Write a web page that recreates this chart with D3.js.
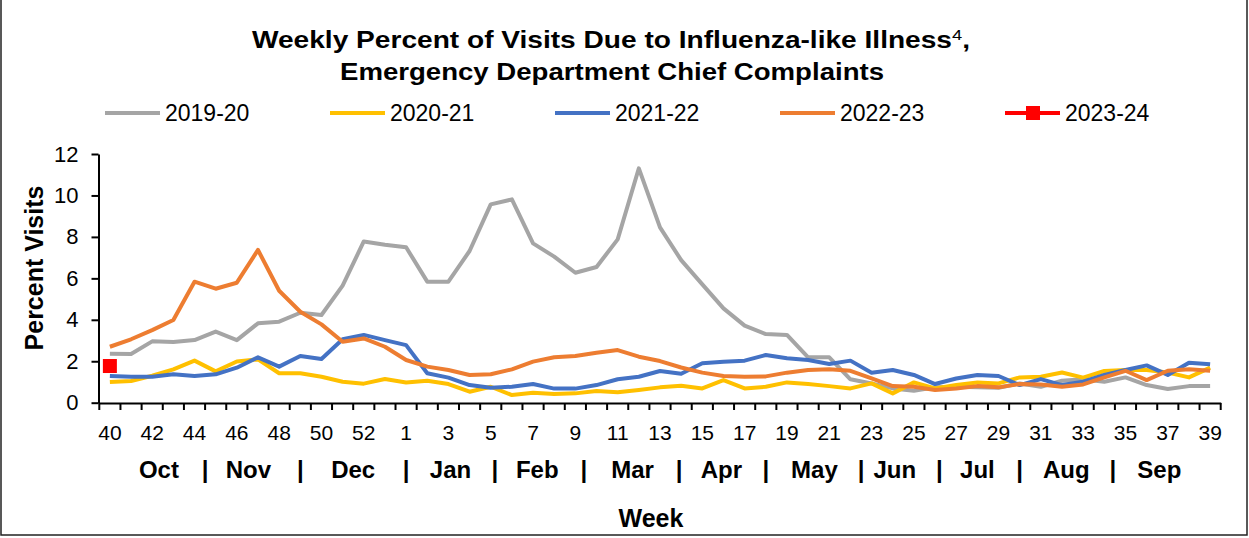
<!DOCTYPE html>
<html>
<head>
<meta charset="utf-8">
<script src="https://cdn.jsdelivr.net/npm/d3@7"></script>
<style>
  body { margin: 0; background: #fff; }
  text { font-family: Arial, "Liberation Sans", sans-serif; }
</style>
</head>
<body>
<div id="svg"></div>
<script>
var w = 1249;
var h = 538;

// season weeks: 40..53 then 1..39
var weeks = ['40','41','42','43','44','45','46','47','48','49','50','51','52','53',
  '1','2','3','4','5','6','7','8','9','10','11','12','13','14','15','16','17','18','19','20',
  '21','22','23','24','25','26','27','28','29','30','31','32','33','34','35','36','37','38','39'];
var tickWeeks = ['40','42','44','46','48','50','52','1','3','5','7','9','11','13','15','17','19',
  '21','23','25','27','29','31','33','35','37','39'];
var months = ['Oct','Nov','Dec','Jan','Feb','Mar','Apr','May','Jun','Jul','Aug','Sep'];
var seasons = ['2019-20','2020-21','2021-22','2022-23','2023-24'];

var s2019 = [2.36,2.35,2.96,2.93,3.02,3.43,3.02,3.83,3.91,4.34,4.23,5.65,7.78,7.62,
  7.50,5.84,5.84,7.32,9.57,9.81,7.69,7.05,6.27,6.55,7.88,11.31,8.46,6.88,5.71,4.55,3.72,3.31,3.27,2.19,
  2.19,1.13,0.93,0.69,0.58,0.74,0.77,0.74,0.72,0.93,0.77,1.06,1.13,1.01,1.22,0.85,0.66,0.80,0.80];
var s2020 = [1.00,1.05,1.30,1.61,2.03,1.51,1.99,2.09,1.42,1.42,1.25,1.01,0.92,1.14,
  0.97,1.06,0.90,0.53,0.77,0.37,0.48,0.42,0.45,0.56,0.50,0.61,0.74,0.82,0.69,1.09,0.69,0.77,0.98,0.90,
  0.80,0.69,0.93,0.45,0.98,0.69,0.85,0.97,0.93,1.22,1.25,1.46,1.21,1.53,1.58,1.58,1.46,1.22,1.69];
var s2021 = [1.29,1.25,1.25,1.37,1.29,1.37,1.69,2.19,1.74,2.25,2.11,3.06,3.27,3.02,
  2.78,1.42,1.21,0.85,0.72,0.77,0.90,0.68,0.68,0.85,1.13,1.25,1.53,1.40,1.90,1.98,2.03,2.30,2.14,2.06,
  1.87,2.03,1.45,1.58,1.34,0.90,1.17,1.34,1.29,0.85,1.14,0.85,1.01,1.34,1.58,1.80,1.34,1.93,1.85];
var s2022 = [2.70,3.06,3.50,3.99,5.84,5.50,5.79,7.37,5.40,4.39,3.78,2.94,3.10,2.70,
  2.06,1.74,1.58,1.34,1.37,1.61,1.98,2.19,2.25,2.41,2.54,2.22,2.01,1.70,1.45,1.29,1.25,1.27,1.45,1.58,
  1.61,1.54,1.17,0.80,0.77,0.61,0.69,0.80,0.74,0.90,0.88,0.77,0.88,1.22,1.54,1.09,1.54,1.61,1.54];
var s2023 = [1.77];

var colors = ['#A5A5A5','#FFC000','#4472C4','#ED7D31','#FF0000'];
var seriesData = [s2019, s2020, s2021, s2022, s2023];

const svg = d3.select('#svg')
  .append('svg')
  .attr('width', w)
  .attr('height', h);

var x = d3.scaleBand()
  .domain(weeks)
  .range([99.3, 1220.7])
  .padding(0);

var y = d3.scaleLinear()
  .domain([0, 12])
  .range([402.7, 154]);

var cx = d => x(d) + x.bandwidth() / 2;

// outer frame
svg.append('rect')
  .attr('x', 1).attr('y', -5)
  .attr('width', 1246).attr('height', 540)
  .attr('fill', 'none')
  .attr('stroke', '#222')
  .attr('stroke-width', 1.5);

// title
var title = svg.append('text')
  .attr('x', 611).attr('y', 48)
  .attr('text-anchor', 'middle')
  .attr('font-size', 23)
  .attr('font-weight', 'bold')
  .attr('textLength', 718)
  .attr('lengthAdjust', 'spacingAndGlyphs');
title.append('tspan').text('Weekly Percent of Visits Due to Influenza-like Illness');
title.append('tspan').attr('font-size', 15).attr('font-weight', 'normal').attr('dy', -8).text('4');
title.append('tspan').attr('dy', 8).text(',');

svg.append('text')
  .attr('x', 612).attr('y', 80)
  .attr('text-anchor', 'middle')
  .attr('font-size', 23)
  .attr('font-weight', 'bold')
  .attr('textLength', 544)
  .attr('lengthAdjust', 'spacingAndGlyphs')
  .text('Emergency Department Chief Complaints');

// legend
var legend = svg.append('g')
  .selectAll('g')
  .data(seasons)
  .enter()
  .append('g')
  .attr('transform', (d, i) => `translate(${105 + i * 225}, 113)`);

legend.append('line')
  .attr('x1', 0).attr('x2', 55)
  .attr('stroke', (d, i) => colors[i])
  .attr('stroke-width', 4);

legend.filter((d, i) => i == 4)
  .append('rect')
  .attr('x', 21).attr('y', -7)
  .attr('width', 14).attr('height', 14)
  .attr('fill', colors[4]);

legend.append('text')
  .attr('x', 60).attr('y', 8)
  .attr('font-size', 23)
  .text(d => d);

// series lines
var line = d3.line()
  .x((d, i) => cx(weeks[i]))
  .y(d => y(d));

svg.append('g')
  .selectAll('path')
  .data(seriesData.slice(0, 4))
  .enter()
  .append('path')
  .attr('d', d => line(d))
  .attr('fill', 'none')
  .attr('stroke', (d, i) => colors[i])
  .attr('stroke-width', 4)
  .attr('stroke-linejoin', 'round');

svg.selectAll('.cur')
  .data(s2023)
  .enter()
  .append('rect')
  .attr('class', 'cur')
  .attr('x', (d, i) => cx(weeks[i]) - 7)
  .attr('y', d => y(d) - 7)
  .attr('width', 14).attr('height', 14)
  .attr('fill', colors[4]);

// y axis
var yAxis = svg.append('g')
  .attr('transform', 'translate(98.5, 0)')
  .call(d3.axisLeft(y).tickValues([0, 2, 4, 6, 8, 10, 12]).tickSize(7).tickPadding(13).tickSizeOuter(0));
yAxis.select('.domain').attr('stroke', '#000').attr('stroke-width', 2);
yAxis.selectAll('.tick line').attr('stroke', '#000').attr('stroke-width', 2);
yAxis.selectAll('text').attr('font-size', 22).attr('fill', '#000')
  .attr('font-family', 'Arial, "Liberation Sans", sans-serif');

// x axis
var xAxis = svg.append('g')
  .attr('transform', 'translate(0, 403)')
  .call(d3.axisBottom(x).tickValues(tickWeeks).tickSize(0).tickPadding(22).tickSizeOuter(0));
xAxis.select('.domain').attr('stroke', '#000').attr('stroke-width', 2);
xAxis.selectAll('text').attr('font-size', 21).attr('fill', '#000')
  .attr('font-family', 'Arial, "Liberation Sans", sans-serif');

// category boundary ticks
var bounds = weeks.map(d => x(d)).concat([x.range()[1]]);
xAxis.selectAll('.bound')
  .data(bounds)
  .enter()
  .append('line')
  .attr('class', 'bound')
  .attr('x1', d => d).attr('x2', d => d)
  .attr('y1', 0).attr('y2', 7)
  .attr('stroke', '#000')
  .attr('stroke-width', 2);

// month row
var monthPos = [2.32, 6.55, 11.5, 16.1, 20.2, 24.7, 28.9, 33.3, 37.1, 41.0, 45.2, 49.6];
var sepPos = [4.5, 9.0, 14.0, 18.2, 22.4, 26.9, 31.0, 35.5, 39.2, 43.0, 47.4];
var idx = d3.scaleLinear().domain([0, weeks.length]).range(x.range());
var half = x.bandwidth() / 2;

svg.selectAll('.month')
  .data(months)
  .enter()
  .append('text')
  .attr('class', 'month')
  .attr('x', (d, i) => idx(monthPos[i]) + half)
  .attr('y', 478)
  .attr('text-anchor', 'middle')
  .attr('font-size', 24)
  .attr('font-weight', 'bold')
  .text(d => d);

svg.selectAll('.sep')
  .data(sepPos)
  .enter()
  .append('text')
  .attr('class', 'sep')
  .attr('x', d => idx(d) + half)
  .attr('y', 478)
  .attr('text-anchor', 'middle')
  .attr('font-size', 24)
  .attr('font-weight', 'bold')
  .text('|');

svg.append('text')
  .attr('x', 651).attr('y', 527)
  .attr('text-anchor', 'middle')
  .attr('font-size', 25)
  .attr('font-weight', 'bold')
  .text('Week');

svg.append('text')
  .attr('transform', 'rotate(-90)')
  .attr('x', -268)
  .attr('y', 43)
  .attr('text-anchor', 'middle')
  .attr('font-size', 25)
  .attr('font-weight', 'bold')
  .text('Percent Visits');
</script>
</body>
</html>
